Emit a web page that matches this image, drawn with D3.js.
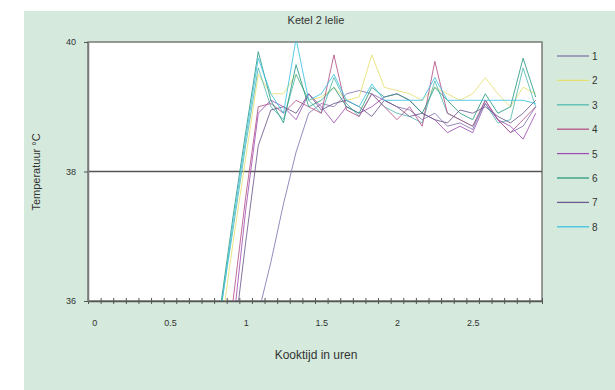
<!DOCTYPE html>
<html>
<head>
<meta charset="utf-8">
<script src="https://cdn.jsdelivr.net/npm/d3@7"></script>
<style>
  body { margin: 0; background: #fff; }
  text { font-family: "Liberation Sans", Arial, sans-serif; fill: #333; }
</style>
</head>
<body>
<svg id="chart" width="615" height="390"></svg>
<script>
// metingen elke 5 minuten (36 punten), waarden onder 36 vallen buiten de grafiek
var minutes = d3.range(36).map(function(i){ return i * 5; });
var pre = [34, 34, 34, 34, 34, 34, 34, 34, 34, 34];

var s1 = pre.concat([34, 34, 34.9, 35.8, 36.6, 37.5, 38.3, 38.9, 39.05, 39, 39.2, 39.25, 39.2, 39.1, 39, 38.95, 38.8, 38.9, 38.7, 38.75, 38.65, 39.1, 38.8, 38.6, 38.7, 39]);
var s2 = pre.concat([35.5, 36.9, 38.2, 39.5, 39.2, 39.2, 39.5, 39.1, 39.15, 39.3, 39.1, 39.15, 39.8, 39.3, 39.25, 39.2, 39.1, 39.3, 39.2, 39.1, 39.2, 39.45, 39.2, 39, 39.3, 39.2]);
var s3 = pre.concat([35.85, 37.1, 38.4, 39.6, 39, 38.8, 39.5, 39.1, 38.9, 39.45, 39.05, 38.85, 39.2, 39, 38.9, 38.85, 38.75, 39.4, 38.9, 38.8, 38.7, 39.05, 38.75, 38.8, 39.6, 39]);
var s4 = pre.concat([34.8, 36, 37.6, 39, 39.05, 38.9, 39.1, 39, 38.9, 39.8, 38.95, 38.85, 39.2, 39, 38.8, 39, 38.7, 39.7, 38.9, 38.8, 38.7, 39.1, 38.8, 38.6, 38.8, 39]);
var s5 = pre.concat([34.5, 35.6, 37.4, 38.9, 39.1, 39, 38.8, 39.2, 39, 38.75, 39, 38.9, 39, 39.15, 39.2, 39.1, 38.9, 38.8, 38.6, 38.7, 38.6, 39.05, 38.8, 38.7, 38.5, 38.9]);
var s6 = pre.concat([35.9, 37.3, 38.6, 39.85, 39.1, 38.75, 39.65, 39, 39.1, 39.3, 39, 38.9, 39.3, 39.15, 39.2, 39.1, 38.9, 39.3, 39.1, 38.9, 38.8, 39.2, 38.9, 39, 39.75, 39.15]);
var s7 = pre.concat([34, 35.3, 36.9, 38.4, 38.95, 39, 38.9, 39.2, 38.95, 39.05, 39.1, 39, 38.85, 39.1, 39, 38.85, 38.9, 38.8, 38.75, 38.95, 38.9, 39, 38.85, 38.75, 38.9, 39.1]);
var s8 = pre.concat([35.8, 37.2, 38.5, 39.75, 39.2, 38.9, 40.05, 39.1, 39.2, 39.5, 39.1, 39, 39.35, 39.1, 39.1, 39.1, 39.1, 39.45, 39.1, 39.1, 39.1, 39.1, 39.1, 39.1, 39.1, 39.05]);

var seriesNames = ["1", "2", "3", "4", "5", "6", "7", "8"];
var seriesValues = [s1, s2, s3, s4, s5, s6, s7, s8];
var seriesColors = ["#8574b0", "#e6df72", "#55bab2", "#b45288", "#a050b4", "#2a9a82", "#6e5a8e", "#3ec2e2"];

var yTicks = [36, 38, 40];
var xLabels = [0, 0.5, 1, 1.5, 2, 2.5];

var svg = d3.select("#chart");

var pLeft = 88, pRight = 542, pTop = 42, pBottom = 301;

// groene achtergrond
svg.append("rect").attr("x", 24).attr("y", 11).attr("width", 591).attr("height", 379).attr("fill", "#d5eadd");

// categorie-as: labels in het midden van elke categorie
var step = 1 / 12;
var x = d3.scaleLinear().domain([-step / 2, 36 * step - step / 2]).range([pLeft, pRight]);
var y = d3.scaleLinear().domain([36, 40]).range([pBottom, pTop]);

svg.append("rect").attr("x", pLeft).attr("y", pTop).attr("width", pRight - pLeft).attr("height", pBottom - pTop)
  .attr("fill", "#fff").attr("stroke", "#7a7a7a").attr("stroke-width", 1.5);

// rasterlijn op 38
svg.append("line").attr("x1", pLeft).attr("x2", pRight).attr("y1", y(38)).attr("y2", y(38))
  .attr("stroke", "#555").attr("stroke-width", 1.3);

svg.append("defs").append("clipPath").attr("id", "clip")
  .append("rect").attr("x", pLeft).attr("y", pTop).attr("width", pRight - pLeft).attr("height", pBottom - pTop);

var line = d3.line()
  .x(function(d, i){ return x(minutes[i] / 60); })
  .y(function(d){ return y(d); });

var plot = svg.append("g").attr("clip-path", "url(#clip)");
seriesValues.forEach(function(vals, i){
  plot.append("path").datum(vals)
    .attr("d", line)
    .attr("fill", "none")
    .attr("stroke", seriesColors[i])
    .attr("stroke-opacity", 0.85)
    .attr("stroke-width", 1);
});

// x-as met kruisjes op de categoriegrenzen
var boundaries = d3.range(37).map(function(i){ return -step / 2 + i * step; });
var xTicks = svg.append("g").attr("transform", "translate(0," + pBottom + ")")
  .call(d3.axisBottom(x).tickValues(boundaries).tickFormat("").tickSize(3).tickSizeOuter(0));
xTicks.select(".domain").attr("stroke", "#555").attr("stroke-width", 1.5);
xTicks.selectAll(".tick line").attr("y1", -3).attr("y2", 3).attr("stroke", "#555");

var xLab = svg.append("g").attr("transform", "translate(0," + (pBottom + 16) + ")")
  .call(d3.axisBottom(x).tickValues(xLabels).tickSize(0).tickFormat(d3.format("")));
xLab.select(".domain").remove();
xLab.selectAll("text").attr("font-size", 9).attr("fill", "#555");

var yAx = svg.append("g").attr("transform", "translate(" + pLeft + ",0)")
  .call(d3.axisLeft(y).tickValues(yTicks).tickFormat(d3.format("d")).tickSize(4).tickSizeOuter(0).tickPadding(8));
yAx.select(".domain").attr("stroke", "#7a7a7a").attr("stroke-width", 1.5);
yAx.selectAll(".tick line").attr("stroke", "#555");
yAx.selectAll("text").attr("font-size", 9).attr("fill", "#555");

svg.append("text").attr("x", 316).attr("y", 24).attr("text-anchor", "middle")
  .attr("font-size", 11).text("Ketel 2 lelie");

svg.append("text").attr("x", 316).attr("y", 359).attr("text-anchor", "middle")
  .attr("font-size", 12).text("Kooktijd in uren");

svg.append("text").attr("transform", "translate(40,172) rotate(-90)").attr("text-anchor", "middle")
  .attr("font-size", 11).text("Temperatuur °C");

// legenda
var legend = svg.append("g");
seriesNames.forEach(function(name, i){
  var ly = 56 + i * 24.4;
  legend.append("line").attr("x1", 557).attr("x2", 589).attr("y1", ly).attr("y2", ly)
    .attr("stroke", seriesColors[i]).attr("stroke-width", 1.3);
  legend.append("text").attr("x", 592).attr("y", ly + 4).attr("font-size", 10).text(name);
});
</script>
</body>
</html>
